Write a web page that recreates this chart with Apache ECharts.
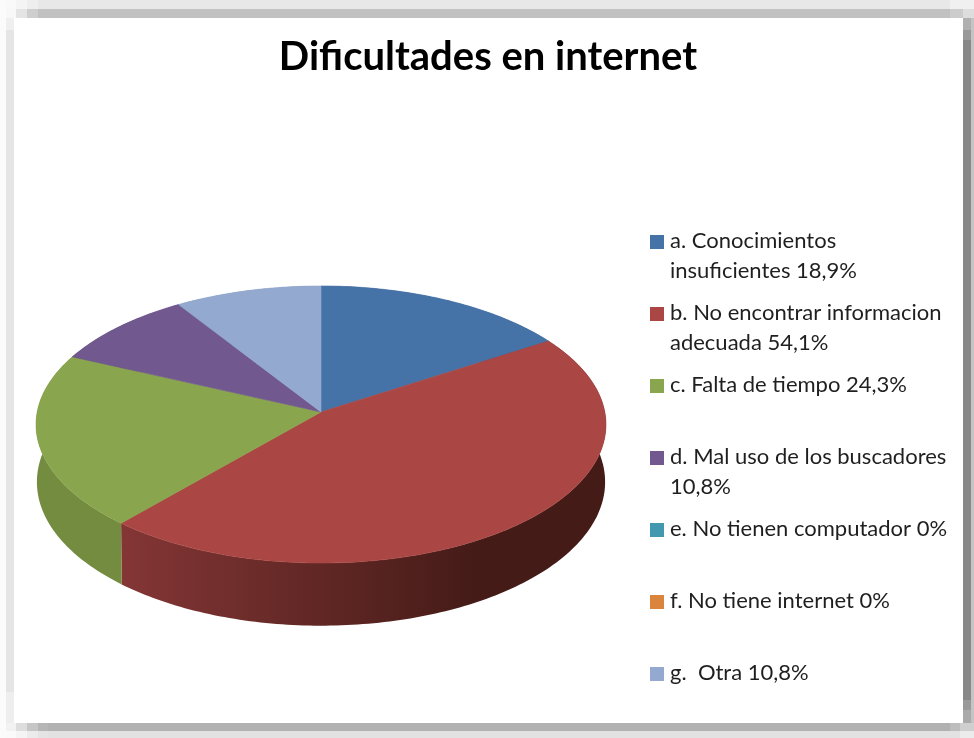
<!DOCTYPE html>
<html>
<head>
<meta charset="utf-8">
<style>
html, body { margin: 0; padding: 0; background: #fff; }
#main { width: 974px; height: 738px; }
</style>
<script src="https://cdn.jsdelivr.net/npm/echarts@6/dist/echarts.min.js"></script>
</head>
<body>
<div id="main"></div>
<script>
var titleText = 'Dificultades en internet';
var values = [18.9, 54.1, 24.3, 10.8, 0, 0, 10.8];
var colors = ['#4572A7', '#AA4643', '#89A54E', '#71588F', '#4198AF', '#DB843D', '#93A9CF'];
var legendLines = [
    ['a. Conocimientos', 'insuficientes 18,9%'],
    ['b. No encontrar informacion', 'adecuada 54,1%'],
    ['c. Falta de tiempo 24,3%'],
    ['d. Mal uso de los buscadores', '10,8%'],
    ['e. No tienen computador 0%'],
    ['f. No tiene internet 0%'],
    ['g.  Otra 10,8%']
];
var wallLeft = ['#3A5578', '#843635', '#748C40', '#5C4874', '#357C8E', '#B26C32', '#7889A8'];
var wallRight = ['#3A5578', '#441B17', '#748C40', '#5C4874', '#357C8E', '#B26C32', '#7889A8'];

// screenshot frame: x, y, width, height, colour
var frameRects = [
    [0, 0, 974, 738, '#fbfbfb'],
    [6, 0, 10, 9, '#f9f9f9'], [16, 0, 11, 9, '#f4f4f4'], [27, 0, 11, 9, '#eeeeee'],
    [38, 0, 912, 9, '#e8e8e8'], [950, 0, 24, 9, '#f0f0f0'],
    [6, 9, 10, 9, '#f8f8f8'], [16, 9, 11, 9, '#e4e4e4'], [27, 9, 11, 9, '#cecece'],
    [38, 9, 912, 9, '#c1c1c1'], [950, 9, 13, 9, '#cccccc'], [963, 9, 11, 9, '#dddddd'],
    [6, 18, 8, 12, '#efefef'], [6, 30, 8, 662, '#e5e5e5'], [6, 692, 8, 31, '#eeeeee'],
    [963, 18, 8, 12, '#b0b0b0'], [963, 30, 8, 10, '#999999'], [963, 40, 8, 660, '#888888'],
    [963, 700, 8, 10, '#999999'], [963, 710, 8, 13, '#aaaaaa'],
    [971, 18, 3, 705, '#c4c4c4'],
    [6, 723, 10, 8, '#f2f2f2'], [16, 723, 11, 8, '#dddddd'], [27, 723, 11, 8, '#c6c6c6'],
    [38, 723, 10, 8, '#b6b6b6'], [48, 723, 902, 8, '#b1b1b1'], [950, 723, 10, 8, '#bdbdbd'],
    [960, 723, 14, 8, '#cfcfcf'],
    [6, 731, 10, 7, '#fafafa'], [16, 731, 11, 7, '#f4f4f4'], [27, 731, 11, 7, '#ebebeb'],
    [38, 731, 10, 7, '#e4e4e4'], [48, 731, 912, 7, '#e2e2e2'], [960, 731, 14, 7, '#ececec'],
    [14, 18, 949, 705, '#ffffff']
];

// perspective of the tilted disc
var cx = 321, cy = 412, radX = 283.8, radY = 137.4, persp = 0.0903, depth = 57;
var total = values.reduce(function (a, b) { return a + b; }, 0);

function point(deg, down, shrink) {
    var t = deg * Math.PI / 180;
    var u = Math.sin(t), v = -Math.cos(t);
    var w = 1 - persp * v;
    return [cx + shrink * radX * u / w, cy + (radY * v + down) / w];
}

function sliceRange(i) {
    var before = 0;
    for (var j = 0; j < i; j++) {
        before += values[j];
    }
    return [before / total * 360, (before + values[i]) / total * 360];
}

function renderTop(params, api) {
    var r = sliceRange(params.dataIndex);
    if (api.value(0) === 0) {
        return null;
    }
    var pts = [[cx, cy]];
    for (var a = r[0]; a < r[1]; a += 1) {
        pts.push(point(a, 0, 1));
    }
    pts.push(point(r[1], 0, 1));
    var c = colors[params.dataIndex];
    return {
        type: 'polygon',
        shape: {points: pts},
        style: {fill: c, stroke: c, lineWidth: 0.6}
    };
}

function renderWall(params, api) {
    var r = sliceRange(params.dataIndex);
    if (api.value(0) === 0) {
        return null;
    }
    var upper = [], lower = [];
    for (var a = r[0]; a < r[1]; a += 1) {
        upper.push(point(a, 0, 1));
        lower.unshift(point(a, depth, 0.997));
    }
    upper.push(point(r[1], 0, 1));
    lower.unshift(point(r[1], depth, 0.997));
    return {
        type: 'polygon',
        shape: {points: upper.concat(lower)},
        style: {
            fill: new echarts.graphic.LinearGradient(120, 0, 480, 0, [
                {offset: 0, color: wallLeft[params.dataIndex]},
                {offset: 1, color: wallRight[params.dataIndex]}
            ], true)
        }
    };
}

// picture frame + legend
var elements = frameRects.map(function (f) {
    return {
        type: 'rect',
        silent: true,
        shape: {x: f[0], y: f[1], width: f[2], height: f[3]},
        style: {fill: f[4]}
    };
});
for (var i = 0; i < legendLines.length; i++) {
    var rowY = 241 + i * 72;
    elements.push({
        type: 'rect',
        z: 5,
        shape: {x: 650, y: rowY - 6, width: 14, height: 14},
        style: {fill: colors[i]}
    });
    for (var l = 0; l < legendLines[i].length; l++) {
        elements.push({
            type: 'text',
            z: 5,
            x: 670,
            y: rowY + l * 30,
            style: {
                text: legendLines[i][l],
                fill: '#1f1f1f',
                font: '22px Lato',
                textVerticalAlign: 'middle'
            }
        });
    }
}

var chart = echarts.init(document.getElementById('main'), null, {renderer: 'canvas'});
chart.setOption({
    animation: false,
    backgroundColor: '#fff',
    title: {
        text: titleText,
        left: 483,
        top: 32,
        textAlign: 'center',
        textStyle: {fontFamily: 'Lato', fontWeight: 'bold', fontSize: 40, color: '#000'}
    },
    graphic: {elements: elements},
    series: [
        {
            name: 'pared',
            type: 'custom',
            coordinateSystem: 'none',
            z: 3,
            renderItem: renderWall,
            data: values
        },
        {
            name: 'Dificultades',
            type: 'custom',
            coordinateSystem: 'none',
            z: 4,
            renderItem: renderTop,
            data: values
        }
    ]
});
</script>
</body>
</html>
